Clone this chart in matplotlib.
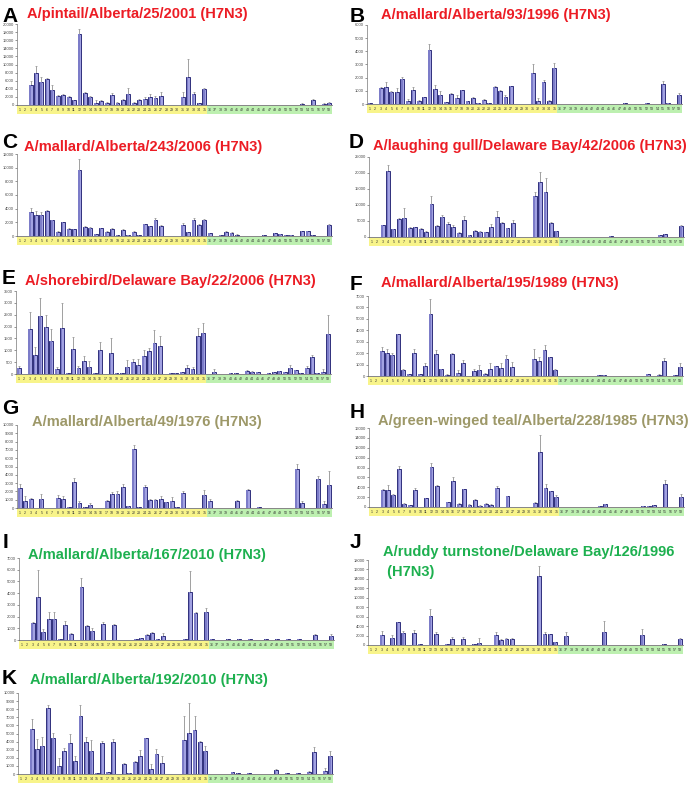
import numpy as np
import matplotlib.pyplot as plt
from matplotlib.patches import Rectangle
import matplotlib.transforms as mtransforms

plt.rcParams['font.family'] = ['Liberation Sans', 'DejaVu Sans']

cats = list(range(1, 59))

# A/pintail/Alberta/25/2001
a_mean = [0, 0, 5000, 8000, 5700, 6300, 3800, 2200, 2400, 2000,
          1200, 17600, 2900, 1900, 500, 1100, 500, 2500, 600, 1200,
          2800, 500, 1200, 1400, 1900, 1800, 2200, 0, 0, 0,
          2000, 6800, 2700, 400, 4000, 100, 50, 0, 0, 0,
          0, 0, 50, 0, 0, 0, 0, 0, 0, 100,
          0, 0, 300, 0, 1300, 0, 300, 600]
a_err = [0, 0, 1000, 1700, 1300, 300, 1200, 200, 200, 200,
         100, 1200, 400, 300, 700, 100, 300, 500, 200, 300,
         1400, 200, 400, 600, 800, 300, 900, 0, 0, 0,
         1300, 4500, 500, 100, 100, 0, 0, 0, 0, 0,
         0, 0, 0, 0, 0, 0, 0, 0, 0, 0,
         0, 0, 100, 0, 300, 0, 200, 200]

# A/mallard/Alberta/93/1996
b_mean = [80, 0, 1250, 1300, 900, 900, 1900, 250, 1100, 250,
          500, 4100, 1150, 700, 150, 750, 450, 1050, 200, 450,
          80, 300, 100, 1300, 1000, 550, 1350, 0, 0, 0,
          2350, 250, 1700, 250, 2700, 0, 0, 0, 0, 0,
          20, 0, 0, 0, 20, 0, 0, 80, 0, 0,
          0, 80, 0, 20, 1550, 50, 0, 700]
b_err = [0, 0, 50, 400, 50, 350, 150, 150, 200, 50,
         0, 450, 300, 250, 0, 100, 250, 50, 0, 50,
         0, 50, 0, 50, 50, 100, 50, 0, 0, 0,
         700, 200, 100, 50, 450, 0, 0, 0, 0, 0,
         0, 0, 0, 0, 0, 0, 0, 20, 0, 0,
         0, 0, 0, 0, 200, 0, 0, 100]

# A/mallard/Alberta/243/2006
c_mean = [0, 0, 3500, 3100, 3100, 3600, 2300, 600, 2000, 1000,
          1000, 9600, 1300, 1200, 300, 1100, 600, 1000, 100, 900,
          100, 600, 100, 1800, 1500, 2300, 1500, 0, 0, 0,
          1600, 600, 2300, 1600, 2400, 400, 0, 100, 600, 500,
          200, 50, 0, 50, 50, 100, 0, 400, 300, 100,
          100, 50, 700, 700, 200, 0, 50, 1600]
c_err = [0, 0, 600, 600, 400, 200, 0, 100, 100, 100,
         0, 1700, 100, 100, 0, 100, 100, 100, 0, 100,
         0, 100, 0, 0, 0, 400, 100, 0, 0, 0,
         300, 0, 300, 100, 100, 50, 0, 0, 100, 100,
         100, 0, 0, 0, 0, 0, 0, 50, 0, 0,
         0, 0, 100, 100, 0, 0, 0, 100]

# A/laughing gull/Delaware Bay/42/2006
d_mean = [100, 0, 3600, 20700, 2500, 5600, 6000, 2800, 3000, 2500,
          1700, 10300, 3300, 6400, 4200, 3100, 1300, 5300, 500, 2000,
          1500, 1500, 3000, 6400, 4300, 2800, 4300, 0, 0, 0,
          12800, 17300, 14200, 4300, 1800, 0, 0, 0, 0, 0,
          0, 0, 0, 0, 200, 0, 0, 0, 0, 0,
          0, 0, 0, 600, 800, 0, 100, 3300]
d_err = [0, 0, 300, 1800, 0, 400, 3000, 200, 200, 300,
         100, 2500, 300, 600, 600, 500, 400, 1400, 100, 300,
         300, 200, 1200, 1600, 500, 100, 1000, 0, 0, 0,
         1400, 3000, 4100, 300, 100, 0, 0, 0, 0, 0,
         0, 0, 0, 0, 0, 0, 0, 0, 0, 0,
         0, 0, 0, 100, 200, 0, 0, 600]

# A/shorebird/Delaware Bay/22/2006
e_mean = [250, 0, 1900, 800, 2450, 2000, 1400, 200, 1950, 50,
          1050, 250, 550, 300, 50, 1000, 0, 900, 30, 50,
          300, 500, 400, 750, 950, 1300, 1200, 0, 30, 30,
          80, 250, 200, 1600, 1750, 0, 100, 0, 0, 30,
          30, 0, 130, 100, 80, 0, 50, 100, 130, 80,
          250, 180, 30, 250, 700, 30, 100, 1700]
e_err = [100, 0, 700, 350, 750, 500, 500, 100, 1050, 0,
         500, 100, 200, 250, 0, 350, 0, 600, 0, 0,
         300, 150, 250, 250, 150, 550, 400, 0, 0, 0,
         0, 150, 100, 350, 400, 0, 100, 0, 0, 0,
         0, 0, 20, 30, 0, 0, 0, 0, 0, 0,
         150, 0, 0, 100, 100, 0, 100, 800]

# A/mallard/Alberta/195/1989
f_mean = [30, 0, 2150, 2050, 1800, 3650, 500, 150, 2000, 150,
          900, 5450, 1900, 600, 100, 1950, 250, 1100, 0, 450,
          500, 200, 600, 850, 700, 1500, 800, 0, 0, 0,
          1450, 1300, 2250, 1650, 550, 0, 0, 0, 0, 0,
          0, 0, 80, 50, 30, 0, 30, 30, 0, 30,
          0, 150, 30, 100, 1300, 0, 50, 800]
f_err = [0, 0, 400, 350, 250, 0, 150, 50, 400, 50,
         250, 1250, 400, 50, 50, 50, 300, 300, 0, 150,
         450, 50, 500, 50, 450, 300, 400, 0, 0, 0,
         950, 400, 450, 50, 50, 0, 0, 0, 0, 0,
         0, 0, 0, 0, 0, 0, 0, 0, 0, 0,
         0, 50, 0, 100, 300, 0, 0, 300]

# A/mallard/Alberta/49/1976
g_mean = [2400, 900, 1050, 0, 1050, 0, 50, 1200, 1050, 100,
          3100, 600, 100, 400, 0, 0, 850, 1700, 1700, 2550,
          200, 7050, 100, 2500, 950, 1000, 1050, 700, 800, 100,
          1800, 0, 0, 0, 1600, 800, 0, 0, 0, 0,
          900, 0, 2150, 0, 100, 0, 0, 0, 0, 0,
          50, 4750, 650, 0, 0, 3500, 450, 2750]
g_err = [500, 500, 100, 0, 600, 0, 0, 400, 350, 0,
         550, 300, 0, 150, 0, 0, 100, 200, 400, 350,
         0, 600, 0, 300, 100, 50, 350, 50, 500, 0,
         250, 0, 0, 0, 600, 300, 0, 0, 0, 0,
         100, 0, 150, 0, 0, 0, 0, 0, 0, 0,
         0, 550, 150, 0, 0, 350, 350, 1700]

# A/green-winged teal/Alberta/228/1985
h_mean = [0, 0, 3400, 3500, 2500, 7600, 700, 400, 3500, 0,
          1800, 8100, 4200, 100, 1000, 5200, 700, 3600, 500, 1500,
          300, 700, 400, 3900, 0, 2200, 0, 0, 0, 0,
          800, 11200, 3900, 3200, 2000, 0, 0, 0, 100, 0,
          50, 0, 200, 600, 50, 0, 0, 0, 0, 100,
          300, 200, 400, 0, 4700, 50, 50, 2100]
h_err = [0, 0, 300, 1000, 100, 800, 100, 100, 300, 0,
         100, 800, 300, 0, 100, 900, 200, 100, 100, 200,
         100, 100, 200, 400, 0, 100, 0, 0, 0, 0,
         300, 3300, 700, 100, 500, 0, 0, 0, 0, 0,
         0, 0, 100, 100, 0, 0, 0, 0, 0, 0,
         0, 0, 100, 0, 700, 0, 0, 600]

# A/mallard/Alberta/167/2010
i_mean = [0, 0, 1450, 3650, 700, 1800, 1800, 50, 1250, 500,
          0, 4550, 1200, 750, 0, 1400, 0, 1300, 0, 0,
          0, 100, 200, 400, 600, 100, 300, 0, 0, 0,
          50, 4100, 2300, 0, 2400, 50, 0, 0, 50, 0,
          50, 0, 50, 0, 0, 50, 0, 50, 0, 50,
          0, 100, 0, 0, 400, 0, 0, 300]
i_err = [0, 0, 100, 2350, 200, 600, 600, 0, 350, 100,
         0, 750, 100, 250, 0, 100, 0, 100, 0, 0,
         0, 0, 0, 150, 100, 0, 300, 0, 0, 0,
         0, 1800, 50, 0, 300, 0, 0, 0, 0, 0,
         0, 0, 0, 0, 0, 0, 0, 0, 0, 0,
         0, 0, 0, 0, 100, 0, 0, 200]

# A/ruddy turnstone/Delaware Bay/126/1996
j_mean = [0, 0, 2200, 0, 1500, 4800, 2500, 0, 2500, 200,
          100, 6100, 2400, 0, 200, 1300, 0, 1300, 0, 300,
          500, 0, 0, 2100, 1000, 1200, 1300, 0, 0, 0,
          0, 14700, 2300, 2300, 600, 0, 2000, 0, 0, 0,
          100, 0, 0, 2700, 0, 0, 100, 0, 0, 0,
          2100, 0, 0, 0, 200, 0, 0, 1300]
j_err = [0, 0, 700, 0, 700, 100, 400, 0, 600, 0,
         0, 1500, 400, 0, 0, 300, 0, 400, 0, 0,
         900, 0, 0, 700, 200, 200, 100, 0, 0, 0,
         0, 2000, 500, 100, 0, 0, 800, 0, 0, 0,
         0, 0, 0, 2400, 0, 0, 0, 0, 0, 0,
         1200, 0, 0, 0, 0, 0, 0, 200]

# A/mallard/Alberta/192/2010
k_mean = [0, 0, 5500, 3100, 3500, 8200, 4500, 1000, 2800, 3800,
          1600, 7200, 3900, 2800, 150, 3800, 200, 3900, 50, 1200,
          100, 1500, 2200, 4400, 600, 2500, 1400, 0, 0, 0,
          4200, 5100, 5400, 4000, 2800, 0, 0, 0, 0, 200,
          100, 0, 150, 0, 0, 0, 0, 500, 0, 100,
          0, 100, 0, 300, 2700, 50, 400, 2200]
k_err = [0, 0, 1300, 1200, 1100, 300, 600, 1000, 400, 1200,
         600, 1300, 700, 1400, 0, 300, 100, 400, 0, 200,
         0, 100, 800, 100, 600, 600, 800, 0, 0, 0,
         3000, 3700, 1700, 100, 700, 0, 0, 0, 0, 0,
         0, 0, 0, 0, 0, 0, 0, 100, 0, 0,
         0, 0, 0, 100, 600, 0, 400, 700]

red = '#ec1c24'
olive = '#9d9868'
green = '#1db04f'

W, H = 696, 788
fig = plt.figure(figsize=(W / 100, H / 100), dpi=100)

# (letter, title, mean, err, ymax, ystep, color, axis left/top/zero px, letter xy, title xy)
panels = [
    ("A", "A/pintail/Alberta/25/2001 (H7N3)", a_mean, a_err, 20000, 2000, red,
     (17, 24, 105), (2, 17), (27, 14)),
    ("B", "A/mallard/Alberta/93/1996 (H7N3)", b_mean, b_err, 6000, 1000, red,
     (367, 25, 104), (350, 17), (381, 15)),
    ("C", "A/mallard/Alberta/243/2006 (H7N3)", c_mean, c_err, 12000, 2000, red,
     (17, 154, 236), (2, 142), (24, 147)),
    ("D", "A/laughing gull/Delaware Bay/42/2006 (H7N3)", d_mean, d_err, 25000, 5000, red,
     (369, 157, 237), (349, 142), (373, 146)),
    ("E", "A/shorebird/Delaware Bay/22/2006 (H7N3)", e_mean, e_err, 3500, 500, red,
     (16, 291, 374), (2, 278), (25, 281)),
    ("F", "A/mallard/Alberta/195/1989 (H7N3)", f_mean, f_err, 7000, 1000, red,
     (368, 296, 376), (350, 285), (381, 283)),
    ("G", "A/mallard/Alberta/49/1976 (H7N3)", g_mean, g_err, 10000, 1000, olive,
     (17, 425, 508), (2, 409), (32, 422)),
    ("H", "A/green-winged teal/Alberta/228/1985 (H7N3)", h_mean, h_err, 16000, 2000, olive,
     (369, 428, 507), (350, 412), (378, 421)),
    ("I", "A/mallard/Alberta/167/2010 (H7N3)", i_mean, i_err, 7000, 1000, green,
     (19, 558, 640), (3, 543), (28, 555)),
    ("J", "A/ruddy turnstone/Delaware Bay/126/1996\n (H7N3)", j_mean, j_err, 18000, 2000, green,
     (368, 560, 645), (350, 543), (383, 562)),
    ("K", "A/mallard/Alberta/192/2010 (H7N3)", k_mean, k_err, 10000, 1000, green,
     (18, 693, 774), (2, 678), (30, 680)),
]

for letter, title, mean, err, ymax, ystep, col, (lx, top, zero), lpos, tpos in panels:
    width_px = 315
    ax = fig.add_axes([lx / W, 1 - zero / H, width_px / W, (zero - top) / H])
    mean = np.array(mean, dtype=float)
    err = np.array(err, dtype=float)
    x = np.array(cats)
    ax.bar(x, mean, width=0.72, color='#a2a2e2', edgecolor='#2f2f7c', linewidth=0.7, zorder=3)
    # darker left shading, like the gradient fill of the original bars
    ax.bar(x - 0.1, mean, width=0.3, color='#7c7cc8', edgecolor='none', zorder=3.5)
    m = err > 0
    ax.errorbar(x[m], mean[m], yerr=[np.zeros(m.sum()), err[m]], fmt='none',
                ecolor='#909090', elinewidth=0.6, capsize=0.8, capthick=0.5, zorder=2)
    ax.set_xlim(0.5, 58.5)
    ax.set_ylim(0, ymax)
    ax.set_yticks(np.arange(0, ymax + 1, ystep))
    ax.tick_params(axis='y', labelsize=3, length=1.2, width=0.4, pad=1, colors='#444444')
    ax.set_xticks([])
    for s in ['top', 'right']:
        ax.spines[s].set_visible(False)
    ax.spines['left'].set_linewidth(0.5)
    ax.spines['left'].set_color('#777777')
    ax.spines['bottom'].set_linewidth(0.5)
    ax.spines['bottom'].set_color('#555555')

    # coloured category band under the axis
    band = 8 / (zero - top)
    trans = mtransforms.blended_transform_factory(ax.transData, ax.transAxes)
    ax.add_patch(Rectangle((0.5, -band - 0.01), 35, band, transform=trans,
                           facecolor='#f8f48a', edgecolor='none', clip_on=False))
    ax.add_patch(Rectangle((35.5, -band - 0.01), 23, band, transform=trans,
                           facecolor='#bdf0b0', edgecolor='none', clip_on=False))
    for k in cats:
        ax.text(k, -band / 2 - 0.01, str(k), transform=trans, fontsize=2.6,
                ha='center', va='center', color='#333333', clip_on=False)

    fig.text(lpos[0] / W, 1 - lpos[1] / H, letter, fontsize=15, fontweight='bold',
             ha='left', va='center', color='black')
    fig.text(tpos[0] / W, 1 - tpos[1] / H, title, fontsize=10.5, fontweight='bold',
             ha='left', va='center', color=col, linespacing=1.5)

fig.savefig('out.png', dpi=100)
